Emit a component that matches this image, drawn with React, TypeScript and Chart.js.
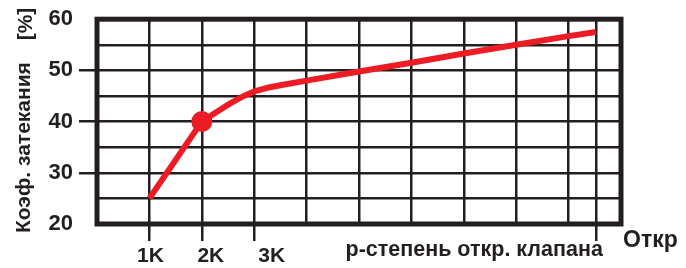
import React, { useEffect, useRef } from "react";
import { Chart, registerables } from "chart.js";

Chart.register(...registerables);

// Data
const xValues = [1, 2, 2.5, 2.8, 3, 3.25, 3.55, 4, 5, 6, 7, 8, 9, 9.52];
const yValues = [25, 40, 43.3, 45.0, 45.9, 46.6, 47.2, 48.0, 49.8, 51.5, 53.3, 55.0, 56.7, 57.5];
const markedX = [2];

const xGridValues = [0, 1, 2, 3, 4, 5, 6, 7, 8, 9, 9.52, 10];
const xTickValues = [1, 2, 3, 9.52];
const xTickLabels = ["1K", "2K", "3K", "р-степень откр. клапана"];
const yMajorTicks = [30, 40, 50];
const yTitle = "Коэф. затекания";
const yUnit = "[%]";
const xTitle = "Откр";

const INK = "#231F20";
const RED = "#ED1C24";
const FONT = '"Liberation Sans", Arial, Helvetica, sans-serif';

export default function App() {
  const ref = useRef<HTMLCanvasElement | null>(null);

  useEffect(() => {
    document.body.style.margin = "0";
    const canvas = ref.current;
    if (!canvas) return;

    const framePlugin = {
      id: "frame",
      beforeDatasetsDraw(chart: any) {
        const { ctx, chartArea } = chart;
        ctx.save();
        ctx.strokeStyle = INK;
        ctx.lineWidth = 5;
        ctx.strokeRect(chartArea.left, chartArea.top, chartArea.right - chartArea.left, chartArea.bottom - chartArea.top);
        ctx.restore();
      },
    };

    const textPlugin = {
      id: "texts",
      afterDraw(chart: any) {
        const { ctx } = chart;
        const xs = chart.scales.x;
        ctx.save();
        ctx.fillStyle = INK;
        ctx.textBaseline = "alphabetic";
        // x tick labels
        const offsets = [1, 9, 4, 7];
        const aligns = ["center", "center", "left", "right"];
        xTickValues.forEach((v, i) => {
          const px = xs.getPixelForValue(v);
          ctx.textAlign = aligns[i];
          if (i === 3) {
            ctx.font = `bold 21.5px ${FONT}`;
            ctx.fillText(xTickLabels[i], px + offsets[i], 256);
          } else {
            ctx.font = `bold 21px ${FONT}`;
            ctx.fillText(xTickLabels[i], px + offsets[i], 262);
          }
        });
        // x title (cut at right edge)
        ctx.font = `bold 23px ${FONT}`;
        ctx.textAlign = "left";
        ctx.fillText(xTitle, 623, 247);
        // y title
        ctx.save();
        ctx.translate(24, 233);
        ctx.rotate(-Math.PI / 2);
        ctx.textAlign = "left";
        ctx.textBaseline = "middle";
        ctx.font = `bold 21px ${FONT}`;
        ctx.fillText(yTitle, 0, 0);
        ctx.restore();
        ctx.save();
        ctx.translate(26, 24);
        ctx.rotate(-Math.PI / 2);
        ctx.textAlign = "center";
        ctx.textBaseline = "middle";
        ctx.font = `bold 21px ${FONT}`;
        ctx.fillText(yUnit, 0, 0);
        ctx.restore();
        ctx.restore();
      },
    };

    const chart = new Chart(canvas, {
      type: "line",
      data: {
        datasets: [
          {
            data: xValues.map((x, i) => ({ x, y: yValues[i] })),
            borderColor: RED,
            borderWidth: 6,
            borderCapStyle: "butt",
            borderJoinStyle: "round",
            backgroundColor: RED,
            pointBackgroundColor: RED,
            pointBorderWidth: 0,
            pointRadius: xValues.map((x) => (markedX.includes(x) ? 10.5 : 0)),
            pointHoverRadius: xValues.map((x) => (markedX.includes(x) ? 10.5 : 0)),
            tension: 0,
            fill: false,
          },
        ],
      },
      options: {
        animation: false,
        responsive: false,
        maintainAspectRatio: false,
        layout: { padding: { top: 16, right: 65, left: 0, bottom: 0 } },
        plugins: { legend: { display: false }, tooltip: { enabled: false } },
        events: [],
        scales: {
          x: {
            type: "linear",
            min: 0,
            max: 10,
            afterBuildTicks: (s: any) => {
              s.ticks = xGridValues.map((v) => ({ value: v }));
            },
            afterFit: (s: any) => {
              s.height = 44;
            },
            ticks: { display: false, autoSkip: false },
            border: { display: false },
            grid: {
              color: INK,
              lineWidth: 2.5,
              drawTicks: true,
              tickLength: 17,
              tickWidth: 2.5,
              tickColor: (c: any) => (c.tick && xTickValues.includes(c.tick.value) ? INK : "rgba(0,0,0,0)"),
            },
          },
          y: {
            type: "linear",
            min: 20,
            max: 60,
            afterFit: (s: any) => {
              s.width = 97;
            },
            ticks: {
              stepSize: 5,
              padding: 6,
              autoSkip: false,
              color: INK,
              font: { family: FONT, size: 22, weight: "bold" },
              callback: (v: any) => (Number(v) % 10 === 0 ? String(v) : ""),
            },
            border: { display: false },
            grid: {
              color: INK,
              lineWidth: 2.5,
              drawTicks: true,
              tickLength: 18,
              tickWidth: 2.5,
              tickColor: (c: any) => (c.tick && yMajorTicks.includes(c.tick.value) ? INK : "rgba(0,0,0,0)"),
            },
          },
        },
      },
      plugins: [framePlugin, textPlugin],
    } as any);

    return () => chart.destroy();
  }, []);

  return <canvas ref={ref} width={686} height={268} style={{ display: "block" }} />;
}
